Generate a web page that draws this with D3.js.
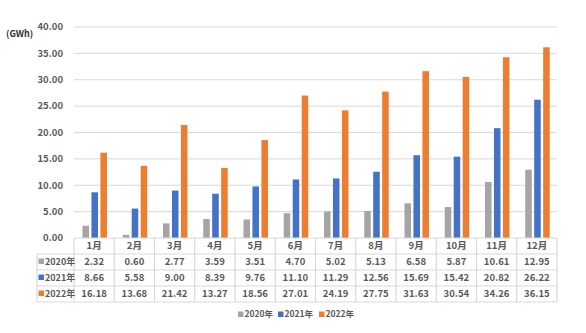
<!DOCTYPE html>
<html><head><meta charset="utf-8">
<script src="https://cdn.jsdelivr.net/npm/d3@7"></script>
<style>
html,body{margin:0;padding:0;background:#fff;}
svg{display:block;}
text{font-family:"Noto Sans CJK SC","Noto Sans",sans-serif;}
</style></head>
<body><div id="chart"></div>
<script>
const months = ["1月","2月","3月","4月","5月","6月","7月","8月","9月","10月","11月","12月"];
const seriesNames = ["2020年","2021年","2022年"];
const v2020 = [2.32,0.60,2.77,3.59,3.51,4.70,5.02,5.13,6.58,5.87,10.61,12.95];
const v2021 = [8.66,5.58,9.00,8.39,9.76,11.10,11.29,12.56,15.69,15.42,20.82,26.22];
const v2022 = [16.18,13.68,21.42,13.27,18.56,27.01,24.19,27.75,31.63,30.54,34.26,36.15];
const yTicks = [0,5,10,15,20,25,30,35,40];
const unitLabel = "(GWh)";
const colors = ["#a5a5a5","#4472c4","#ed7d31"];

(function(){
const W = 586, H = 333;
const svg = d3.select("#chart").append("svg").attr("width",W).attr("height",H);
const pLeft = 74, pRight = 557, pTop = 27, pBottom = 238;
const x = d3.scaleBand().domain(months).range([pLeft,pRight]);
const y = d3.scaleLinear().domain([0,40]).range([pBottom,pTop]);
const seriesData = [v2020,v2021,v2022];
const inner = d3.scaleBand().domain(seriesNames).range([0, 24.5]).paddingInner(0.27);
const txt = "#595959";

svg.append("g").selectAll("line").data(yTicks.filter(t=>t>0)).join("line")
  .attr("x1",pLeft).attr("x2",pRight).attr("y1",d=>y(d)).attr("y2",d=>y(d))
  .attr("stroke","#d9d9d9").attr("stroke-width",1);

svg.append("g").selectAll("text").data(yTicks).join("text")
  .attr("x",63).attr("y",d=>y(d)).attr("dy","0.35em").attr("text-anchor","end")
  .attr("font-size",9.5).attr("font-weight",700).attr("fill",txt)
  .text(d=>d.toFixed(2));
svg.append("text").attr("x",6).attr("y",37).attr("font-size",9).attr("font-weight",700)
  .attr("fill","#333").text(unitLabel);

const groupOffset = (x.bandwidth()-24.5)/2 + 0.6;
seriesData.forEach((vals,si)=>{
  svg.append("g").selectAll("rect").data(vals).join("rect")
    .attr("x",(d,i)=>x(months[i])+groupOffset+inner(seriesNames[si]))
    .attr("width",inner.bandwidth())
    .attr("y",d=>y(d)).attr("height",d=>pBottom-y(d))
    .attr("fill",colors[si]);
});

const rowH = 16;
const tableLeft = 37;
const tg = svg.append("g");
const lineColor = "#d9d9d9";
[0,1,2,3,4].forEach(r=>{
  const yy = pBottom + r*rowH;
  tg.append("line").attr("x1", r===0? pLeft : tableLeft).attr("x2",pRight)
    .attr("y1",yy).attr("y2",yy).attr("stroke",lineColor).attr("stroke-width",1.2);
});
months.forEach((m,i)=>{
  tg.append("line").attr("x1",x(m)).attr("x2",x(m)).attr("y1",pBottom).attr("y2",pBottom+4*rowH)
    .attr("stroke",lineColor).attr("stroke-width",1.2);
});
tg.append("line").attr("x1",pRight).attr("x2",pRight).attr("y1",pBottom).attr("y2",pBottom+4*rowH)
  .attr("stroke",lineColor).attr("stroke-width",1.2);
tg.append("line").attr("x1",tableLeft).attr("x2",tableLeft).attr("y1",pBottom+rowH).attr("y2",pBottom+4*rowH)
  .attr("stroke",lineColor).attr("stroke-width",1.2);
tg.selectAll("text.h").data(months).join("text").attr("class","h")
  .attr("x",d=>x(d)+x.bandwidth()/2).attr("y",pBottom+rowH/2).attr("dy","0.35em")
  .attr("text-anchor","middle").attr("font-size",9.5).attr("font-weight",700).attr("fill",txt)
  .text(d=>d);
seriesData.forEach((vals,si)=>{
  const cy = pBottom + rowH*(si+1) + rowH/2;
  tg.append("rect").attr("x",tableLeft+1.5).attr("y",cy-3.5).attr("width",5.5).attr("height",5.5).attr("fill",colors[si]);
  tg.append("text").attr("x",tableLeft+8).attr("y",cy).attr("dy","0.35em")
    .attr("font-size",9).attr("font-weight",700).attr("fill",txt).text(seriesNames[si]);
  tg.selectAll("text.v"+si).data(vals).join("text").attr("class","v"+si)
    .attr("x",(d,i)=>x(months[i])+x.bandwidth()/2).attr("y",cy).attr("dy","0.35em")
    .attr("text-anchor","middle").attr("font-size",9.5).attr("font-weight",700).attr("fill",txt)
    .text(d=>d.toFixed(2));
});

const legX = [238,278,319];
const lg = svg.append("g");
seriesNames.forEach((n,i)=>{
  lg.append("rect").attr("x",legX[i]).attr("y",311.5).attr("width",5.5).attr("height",5.5).attr("fill",colors[i]);
  lg.append("text").attr("x",legX[i]+6.5).attr("y",314.5).attr("dy","0.35em")
    .attr("font-size",8.5).attr("font-weight",700).attr("fill",txt).text(n);
});
})();
</script></body></html>
